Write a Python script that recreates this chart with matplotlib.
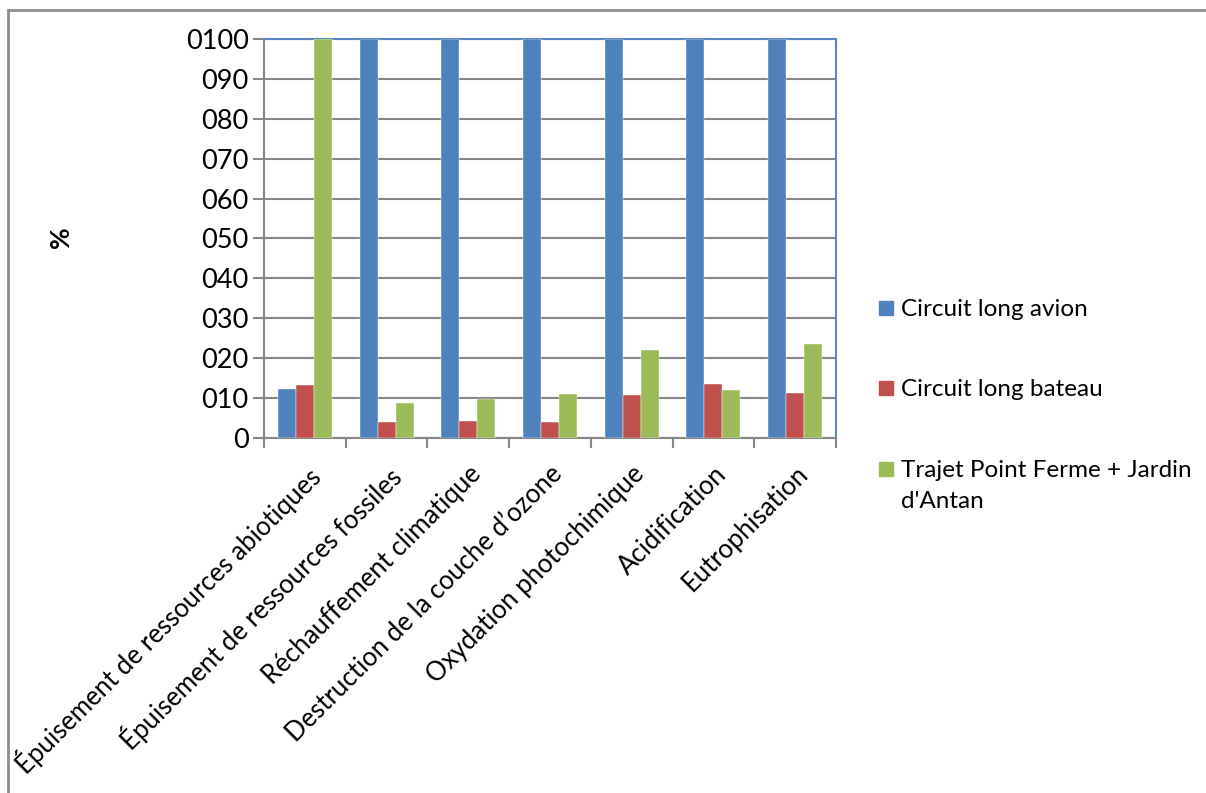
import numpy as np
import matplotlib
matplotlib.use("Agg")
import matplotlib.pyplot as plt
from matplotlib.patches import Rectangle

plt.rcParams['font.family'] = ['Lato', 'DejaVu Sans']

categories = [
    "Épuisement de ressources abiotiques",
    "Épuisement de ressources fossiles",
    "Réchauffement climatique",
    "Destruction de la couche d\u2019ozone",
    "Oxydation photochimique",
    "Acidification",
    "Eutrophisation",
]
series_names = ["Circuit long avion", "Circuit long bateau",
                "Trajet Point Ferme + Jardin\nd'Antan"]
avion = [12.2, 100, 100, 100, 100, 100, 100]
bateau = [13.3, 4.0, 4.2, 3.9, 10.6, 13.5, 11.1]
trajet = [100, 8.6, 9.7, 11.0, 21.9, 12.0, 23.6]
y_ticks = [0, 10, 20, 30, 40, 50, 60, 70, 80, 90, 100]
y_tick_labels = ["0", "010", "020", "030", "040", "050", "060", "070", "080", "090", "0100"]

colors = ["#4F81BD", "#C0504D", "#9BBB59"]
grid_gray = "#868686"

fig = plt.figure(figsize=(12.06, 7.93), dpi=100)
ax = fig.add_axes([264 / 1206, 1 - 437.7 / 793, 572 / 1206, 398.4 / 793])

x = np.arange(len(categories))
w = 0.22
for i, (vals, c) in enumerate(zip([avion, bateau, trajet], colors)):
    ax.bar(x + (i - 1) * w, vals, width=w, color=c, edgecolor="white",
           linewidth=0.3, zorder=3)

ax.set_xlim(-0.5, len(categories) - 0.5)
ax.set_ylim(0, 100)

ax.set_yticks(y_ticks)
ax.set_yticklabels(y_tick_labels, fontsize=19.5)
ax.tick_params(axis="y", length=8, width=1.5, color=grid_gray, pad=3)
ax.yaxis.grid(True, color=grid_gray, linewidth=1.5, zorder=0)

ax.set_xticks(x)
ax.set_xticklabels(categories, rotation=45, ha="right", va="top",
                   rotation_mode="anchor", fontsize=18.5)
ax.tick_params(axis="x", which="major", length=0, pad=17)
ax.set_xticks(np.arange(-0.5, len(categories)), minor=True)
ax.tick_params(axis="x", which="minor", length=7, width=1.5, color=grid_gray)

for side in ("left", "bottom"):
    ax.spines[side].set_color(grid_gray)
    ax.spines[side].set_linewidth(1.5)
for side in ("top", "right"):
    ax.spines[side].set_color("#5B87C5")
    ax.spines[side].set_linewidth(1.5)

fig.text(61 / 1206, 1 - 237 / 793, "%", rotation=90, fontsize=19,
         fontweight="bold", ha="center", va="center")

# legend drawn on the figure, one square per series
leg_y = [308, 388, 469]
for name, c, yy in zip(series_names, colors, leg_y):
    fig.patches.append(Rectangle((879 / 1206, 1 - (yy + 7) / 793), 14 / 1206, 14 / 793,
                                 transform=fig.transFigure, color=c))
    fig.text(901 / 1206, 1 - (yy - 9) / 793, name, fontsize=17.5, ha="left", va="top",
             linespacing=1.6, transform=fig.transFigure)

# outer chart frame
fig.patches.append(Rectangle((8 / 1206, -0.1), 1.2, 1.1 - 10 / 793, transform=fig.transFigure,
                             fill=False, edgecolor="#8C8C8C", linewidth=2))

fig.savefig("out.png", dpi=100)
